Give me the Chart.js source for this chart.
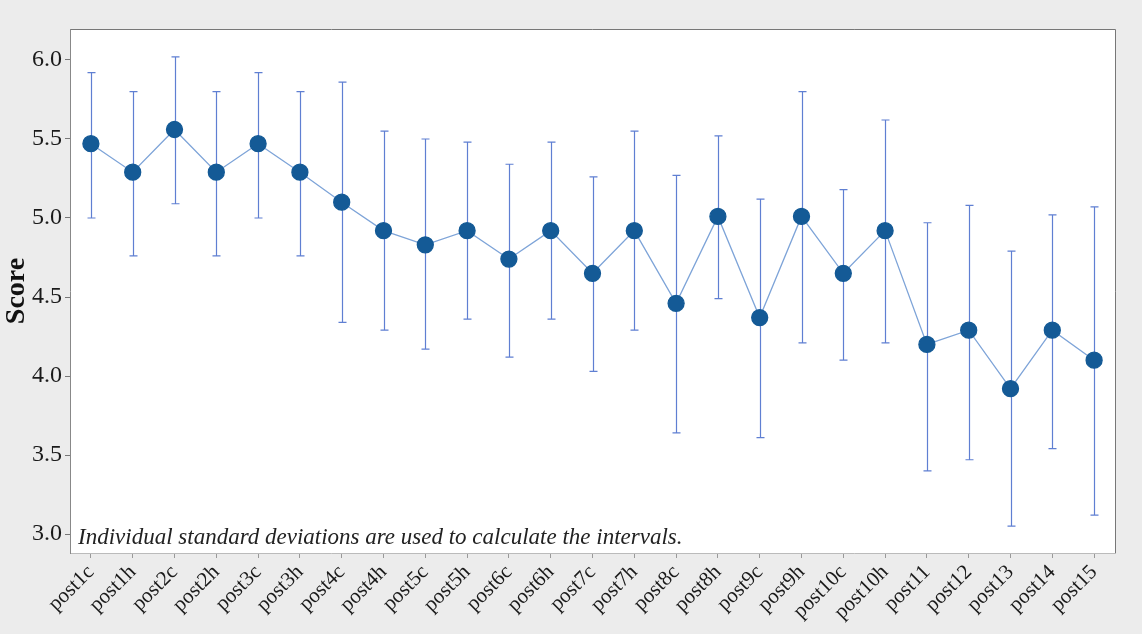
<!DOCTYPE html>
<html>
<head>
<meta charset="utf-8">
<script src="https://cdn.jsdelivr.net/npm/chart.js@4/dist/chart.umd.min.js"></script>
<style>
  html, body { margin: 0; padding: 0; background: #ececec; }
  canvas { display: block; }
</style>
</head>
<body>
<canvas id="scoreChart" width="1142" height="634"></canvas>
<script>
const categories = ["post1c", "post1h", "post2c", "post2h", "post3c", "post3h", "post4c", "post4h",
    "post5c", "post5h", "post6c", "post6h", "post7c", "post7h", "post8c", "post8h",
    "post9c", "post9h", "post10c", "post10h", "post11", "post12", "post13", "post14", "post15"];
const means = [5.47, 5.29, 5.56, 5.29, 5.47, 5.29, 5.10, 4.92,
    4.83, 4.92, 4.74, 4.92, 4.65, 4.92, 4.46, 5.01,
    4.37, 5.01, 4.65, 4.92, 4.20, 4.29, 3.92, 4.29, 4.10];
const upper = [5.92, 5.80, 6.02, 5.80, 5.92, 5.80, 5.86, 5.55,
    5.50, 5.48, 5.34, 5.48, 5.26, 5.55, 5.27, 5.52,
    5.12, 5.80, 5.18, 5.62, 4.97, 5.08, 4.79, 5.02, 5.07];
const lower = [5.00, 4.76, 5.09, 4.76, 5.00, 4.76, 4.34, 4.29,
    4.17, 4.36, 4.12, 4.36, 4.03, 4.29, 3.64, 4.49,
    3.61, 4.21, 4.10, 4.21, 3.40, 3.47, 3.05, 3.54, 3.12];
const yTicks = [3.0, 3.5, 4.0, 4.5, 5.0, 5.5, 6.0];
const note = "Individual standard deviations are used to calculate the intervals.";

// grey page with a white plot box
const backdrop = {
    id: "backdrop",
    beforeDraw(chart) {
        const { ctx, chartArea: a } = chart;
        ctx.save();
        ctx.fillStyle = "#ececec";
        ctx.fillRect(0, 0, chart.width, chart.height);
        ctx.fillStyle = "#ffffff";
        ctx.fillRect(a.left, a.top, a.right - a.left, a.bottom - a.top);
        ctx.strokeStyle = "#777";
        ctx.lineWidth = 1;
        ctx.beginPath();
        ctx.moveTo(a.left, a.top + 0.5);
        ctx.lineTo(a.right + 0.5, a.top + 0.5);
        ctx.lineTo(a.right + 0.5, a.bottom);
        ctx.stroke();
        ctx.restore();
    }
};

// vertical interval bars with caps
const intervals = {
    id: "intervals",
    beforeDatasetsDraw(chart) {
        const { ctx, scales: { x, y } } = chart;
        ctx.save();
        ctx.strokeStyle = "#5f7fd2";
        ctx.lineWidth = 1.2;
        categories.forEach((c, i) => {
            const px = Math.round(x.getPixelForValue(i)) + 0.5;
            const top = y.getPixelForValue(upper[i]);
            const bot = y.getPixelForValue(lower[i]);
            ctx.beginPath();
            ctx.moveTo(px, top);
            ctx.lineTo(px, bot);
            ctx.moveTo(px - 4, top);
            ctx.lineTo(px + 4, top);
            ctx.moveTo(px - 4, bot);
            ctx.lineTo(px + 4, bot);
            ctx.stroke();
        });
        ctx.restore();
    },
    afterDraw(chart) {
        const { ctx, chartArea: a } = chart;
        ctx.save();
        ctx.font = "italic 23px 'Liberation Serif'";
        ctx.fillStyle = "#222";
        ctx.textBaseline = "alphabetic";
        ctx.fillText(note, a.left + 8, a.bottom - 9);
        ctx.restore();
    }
};

new Chart(document.getElementById("scoreChart"), {
    type: "line",
    data: {
        labels: categories,
        datasets: [{
            label: "Score",
            data: means,
            borderColor: "#7ea4d8",
            borderWidth: 1.3,
            pointBackgroundColor: "#145a96",
            pointBorderColor: "#145a96",
            pointRadius: 8,
            tension: 0
        }]
    },
    options: {
        responsive: false,
        animation: false,
        layout: { padding: { left: 0, top: 29, right: 27, bottom: 0 } },
        plugins: { legend: { display: false }, tooltip: { enabled: false } },
        scales: {
            x: {
                offset: true,
                grid: { drawOnChartArea: false, drawTicks: true, tickLength: 5, color: "#999" },
                border: { display: true, color: "#bbb" },
                ticks: {
                    minRotation: 45, maxRotation: 45, padding: 2,
                    color: "#1a1a1a",
                    font: { family: "'Liberation Serif'", size: 21 }
                },
                afterFit(s) { s.height = 81; }
            },
            y: {
                min: 2.88, max: 6.196,
                afterBuildTicks(s) { s.ticks = yTicks.map(v => ({ value: v })); },
                grid: { drawOnChartArea: false, drawTicks: true, tickLength: 5, color: "#777" },
                border: { display: true, color: "#888" },
                ticks: {
                    padding: 3,
                    color: "#1a1a1a",
                    font: { family: "'Liberation Serif'", size: 24 },
                    callback: v => Number(v).toFixed(1)
                },
                title: {
                    display: true, text: "Score", color: "#111",
                    padding: { top: 0, bottom: 0 },
                    font: { family: "'Liberation Serif'", size: 28, weight: "bold" }
                },
                afterFit(s) { s.width = 70; }
            }
        }
    },
    plugins: [backdrop, intervals]
});
</script>
</body>
</html>
